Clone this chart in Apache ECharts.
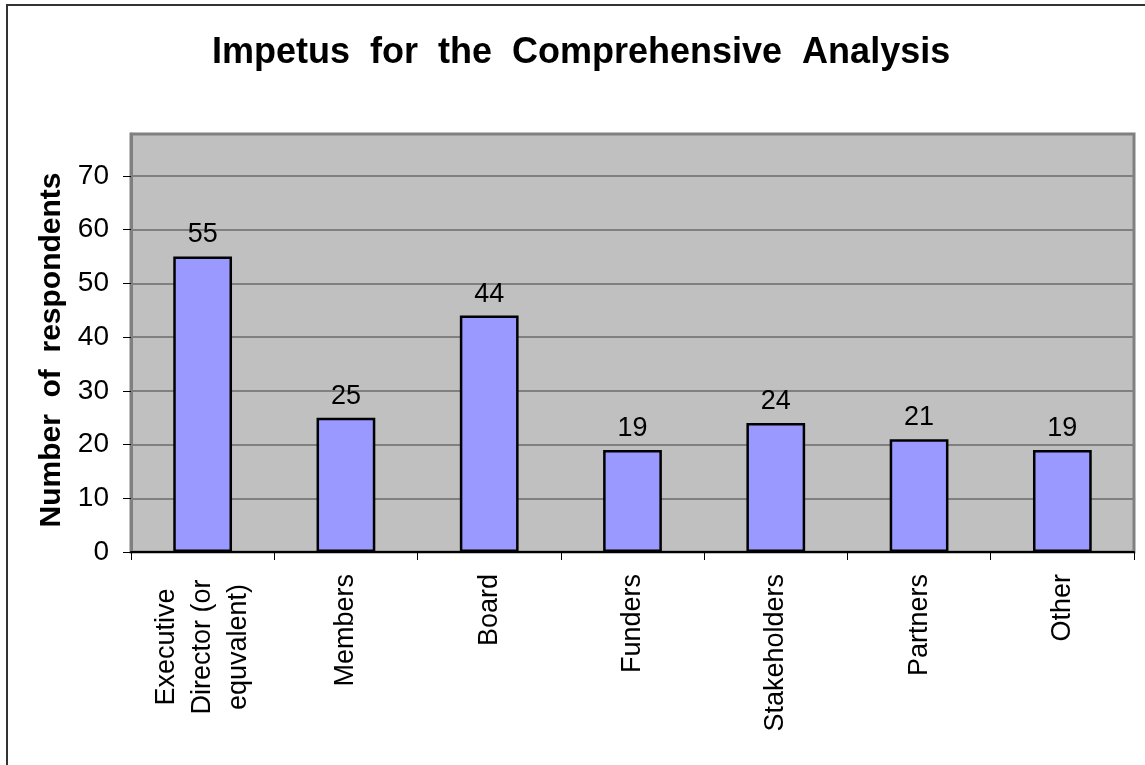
<!DOCTYPE html>
<html>
<head>
<meta charset="utf-8">
<style>
  html, body { margin: 0; padding: 0; background: #ffffff; }
  #chart { width: 1145px; height: 765px; }
</style>
<script src="https://cdn.jsdelivr.net/npm/echarts@6/dist/echarts.min.js"></script>
</head>
<body>
<div id="chart"></div>
<script>
// Who prompted the comprehensive analysis
const categories = [
  'Executive\nDirector (or\nequvalent)',
  'Members',
  'Board',
  'Funders',
  'Stakeholders',
  'Partners',
  'Other'
];
const respondents = [55, 25, 44, 19, 24, 21, 19];
const yTicks = [0, 10, 20, 30, 40, 50, 60, 70];

const FONT = 'Liberation Sans, Arial, sans-serif';

const chart = echarts.init(document.getElementById('chart'), null, { renderer: 'canvas' });

chart.setOption({
  animation: false,
  backgroundColor: '#ffffff',
  title: {
    text: 'Impetus  for  the  Comprehensive  Analysis',
    left: 207,
    top: 30,
    textStyle: { fontFamily: FONT, fontSize: 36, fontWeight: 'bold', color: '#000' }
  },
  graphic: [
    // outer chart frame (left and top edges)
    {
      type: 'polyline',
      shape: { points: [[7, 770], [7, 5], [1150, 5]] },
      style: { stroke: '#333333', lineWidth: 2, fill: null },
      silent: true
    }
  ],
  grid: {
    left: 131,
    right: 11,
    top: 134,
    bottom: 213,
    show: true,
    backgroundColor: '#c0c0c0',
    borderColor: '#808080',
    borderWidth: 3
  },
  xAxis: {
    type: 'category',
    data: categories,
    axisLine: { show: true, lineStyle: { color: '#000', width: 2 } },
    axisTick: { show: true, alignWithLabel: false, length: 8, lineStyle: { color: '#000', width: 1 } },
    axisLabel: {
      rotate: 90,
      margin: 22,
      interval: 0,
      fontFamily: FONT,
      fontSize: 27,
      color: '#000',
      lineHeight: 36,
      formatter: function (v) {
        if (v.indexOf('\n') < 0) return v;
        return v.split('\n').map(function (s) { return '{c|' + s + '}'; }).join('\n');
      },
      rich: {
        c: { width: 146, align: 'center', fontFamily: FONT, fontSize: 27, color: '#000', lineHeight: 36 }
      }
    }
  },
  yAxis: {
    type: 'value',
    min: 0,
    max: 77.8,
    interval: 10,
    name: 'Number  of  respondents',
    nameLocation: 'middle',
    nameGap: 58,
    nameTextStyle: { fontFamily: FONT, fontSize: 30, fontWeight: 'bold', color: '#000', padding: [0, 14, 0, 0] },
    axisLine: { show: true, lineStyle: { color: '#808080', width: 3 } },
    axisTick: { show: true, inside: false, length: 8, lineStyle: { color: '#000', width: 1 } },
    axisLabel: {
      margin: 22,
      fontFamily: FONT,
      fontSize: 28,
      color: '#000',
      showMaxLabel: false,
      formatter: function (v) { return yTicks.indexOf(v) >= 0 ? String(v) : ''; }
    },
    splitLine: { show: true, showMaxLine: false, lineStyle: { color: '#808080', width: 2 } }
  },
  series: [{
    type: 'bar',
    data: respondents,
    barWidth: '41%',
    itemStyle: { color: '#9999ff', borderColor: '#000', borderWidth: 2.5 },
    label: {
      show: true,
      position: 'top',
      distance: 8,
      fontFamily: FONT,
      fontSize: 27,
      color: '#000'
    }
  }]
});
</script>
</body>
</html>
